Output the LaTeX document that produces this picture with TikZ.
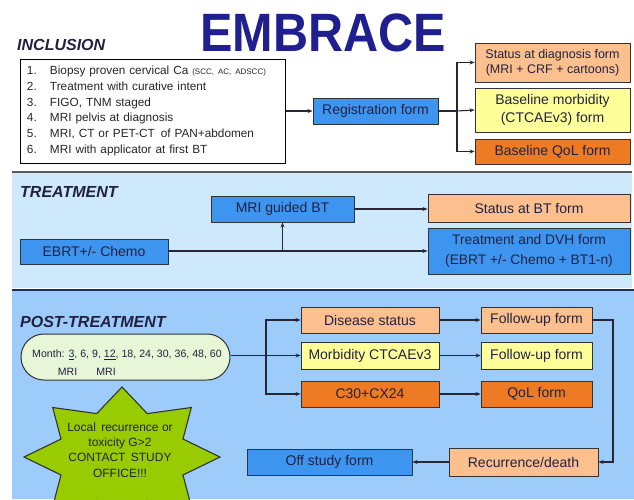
\documentclass[tikz,border=0pt]{standalone}
\usepackage{fontspec}
\usepackage{graphicx}
\setmainfont{Liberation Sans}
\usetikzlibrary{arrows.meta}

\definecolor{fblue}{HTML}{3D95F0}
\definecolor{fpeach}{HTML}{FBC08E}
\definecolor{fyellow}{HTML}{FFFF99}
\definecolor{forange}{HTML}{EE7A24}
\definecolor{treatbg}{HTML}{CDE9FB}
\definecolor{postbg}{HTML}{9DCBFA}
\definecolor{pillfill}{HTML}{E6F6D6}
\definecolor{starfill}{HTML}{99CC00}
\definecolor{boxline}{HTML}{333333}
\definecolor{conline}{HTML}{262636}
\definecolor{txt}{HTML}{222240}
\definecolor{titleblue}{HTML}{1F1F8F}
\definecolor{navyline}{HTML}{1F2F5F}

\tikzset{
  box/.style={draw=boxline, line width=0.9pt, inner sep=1pt, align=center,
    text=txt, font=\fontsize{14}{18}\selectfont},
  bluebox/.style={box, fill=fblue},
  peachbox/.style={box, fill=fpeach},
  yellowbox/.style={box, fill=fyellow},
  orangebox/.style={box, fill=forange},
  conn/.style={draw=conline, line width=1.1pt},
  arr/.style={conn, -{Stealth[length=5pt,width=4pt]}},
  sectitle/.style={anchor=west, inner sep=0pt, text=txt,
    font=\fontsize{16}{18}\selectfont\bfseries\itshape},
}

\begin{document}
\begin{tikzpicture}[x=1pt,y=-1pt]
\useasboundingbox (0,0) rectangle (634,499);
\clip (0,0) rectangle (634,499);

% section bands
\fill[treatbg] (12,172) rectangle (632,288);
\draw[line width=2pt, draw=black!65] (12,172) -- (632,172);
\fill[postbg] (12,290) rectangle (634,499);
\draw[line width=2pt, draw=navyline] (12,290) -- (634,290);

% title
\node[inner sep=0pt, text=titleblue, font=\fontsize{54}{56}\selectfont\bfseries]
  (title) at (323,32.5) {\scalebox{0.9}[1]{EMBRACE}};

% ---------------- inclusion ----------------
\node[sectitle] (inclt) at (17,45) {INCLUSION};
\node[draw=black, line width=1pt, fill=white, minimum width=265, minimum height=104,
      text width=251pt, inner xsep=7pt, align=left, text=black!85,
      font=\fontsize{11.8}{15.8}\selectfont] (incl) at (152.5,111)
  {\makebox[23pt][l]{1.}Biopsy proven cervical Ca {\fontsize{8}{9}\selectfont (SCC, AC, ADSCC)}\\
   \makebox[23pt][l]{2.}Treatment with curative intent\\
   \makebox[23pt][l]{3.}FIGO, TNM staged\\
   \makebox[23pt][l]{4.}MRI pelvis at diagnosis\\
   \makebox[23pt][l]{5.}MRI, CT or PET-CT\, of PAN+abdomen\\
   \makebox[23pt][l]{6.}MRI with applicator at first BT};

\node[bluebox, minimum width=125, minimum height=26] (reg) at (375.5,111) {Registration form};
\node[peachbox, minimum width=155, minimum height=39, font=\fontsize{12.5}{15}\selectfont]
  (sdiag) at (552.5,62.5) {Status at diagnosis form\\(MRI + CRF + cartoons)};
\node[yellowbox, minimum width=155, minimum height=44] (bmorb) at (552.5,110)
  {Baseline morbidity\\(CTCAEv3) form};
\node[orangebox, minimum width=155, minimum height=25] (bqol) at (552.5,151.5) {Baseline QoL form};

\coordinate (j1) at (457,111);
\draw[arr] (incl.east) -- (reg.west);
\draw[conn] (reg.east) -- (j1);
\draw[arr] (j1) |- (sdiag.west);
\draw[arr] (j1) -- (bmorb.west);
\draw[arr] (j1) |- (bqol.west);

% ---------------- treatment ----------------
\node[sectitle] (treatt) at (20,192) {TREATMENT};
\node[bluebox, minimum width=148, minimum height=25] (ebrt) at (94,251.5) {EBRT+/- Chemo};
\node[bluebox, minimum width=143, minimum height=26] (mribt) at (282.5,209) {MRI guided BT};
\node[peachbox, minimum width=202, minimum height=28] (sbt) at (529,208) {Status at BT form};
\node[bluebox, minimum width=202, minimum height=46, font=\fontsize{13.8}{20}\selectfont]
  (dvh) at (529,251) {Treatment and DVH form\\(EBRT +/- Chemo + BT1-n)};

\coordinate (j2) at (mribt.south |- dvh.west);
\draw[conn] (ebrt.east |- dvh.west) -- (j2);
\draw[arr] (j2) -- (mribt.south);
\draw[arr] (j2) -- (dvh.west);
\draw[arr] (mribt.east) -- (sbt.west |- mribt.east);

% ---------------- post-treatment ----------------
\node[sectitle] (postt) at (20,322) {POST-TREATMENT};
\node[draw=boxline, line width=1pt, fill=pillfill, rounded corners=23pt,
      minimum width=209, minimum height=46] (follow) at (125.5,357) {};
\node[inner sep=0pt, text=txt, font=\fontsize{10.6}{12}\selectfont] (months) at (127,355)
  {Month: \underline{3}, 6, 9, \underline{12}, 18, 24, 30, 36, 48, 60};
\node[inner sep=0pt, text=txt, font=\fontsize{10.6}{12}\selectfont] (mria) at (67.5,372) {MRI};
\node[inner sep=0pt, text=txt, font=\fontsize{10.6}{12}\selectfont] (mrib) at (106,372) {MRI};

\node[peachbox, minimum width=138, minimum height=26] (dis) at (370,320) {Disease status};
\node[yellowbox, minimum width=138, minimum height=27] (morb) at (370,355.5) {Morbidity CTCAEv3};
\node[orangebox, minimum width=138, minimum height=26] (c30) at (370,394) {C30+CX24};
\node[peachbox, minimum width=111, minimum height=26] (fu1) at (536.5,320) {Follow-up form};
\node[yellowbox, minimum width=111, minimum height=27] (fu2) at (536.5,355.5) {Follow-up form};
\node[orangebox, minimum width=111, minimum height=26] (qol) at (536.5,394) {QoL form};
\node[peachbox, minimum width=149, minimum height=28] (rec) at (523.5,462) {Recurrence/death};
\node[bluebox, minimum width=165, minimum height=26] (off) at (329.5,462) {Off study form};

\coordinate (j3) at (266,355.5);
\draw[conn] (follow.east |- j3) -- (j3);
\draw[arr] (j3) |- (dis.west);
\draw[arr] (j3) -- (morb.west);
\draw[arr] (j3) |- (c30.west);
\draw[arr] (dis.east) -- (fu1.west);
\draw[arr] (morb.east) -- (fu2.west);
\draw[arr] (c30.east) -- (qol.west);
\coordinate (j4) at (613,320);
\draw[arr] (fu1.east) -- (j4) |- (rec.east);
\draw[arr] (rec.west) -- (off.east);

% alert star
\draw[draw=boxline, line width=1.1pt, fill=starfill, shift={(122,457)}]
  (90:98pt and 70pt) -- (67.5:66pt and 47pt) --
  (45:98pt and 70pt) -- (22.5:66pt and 47pt) --
  (0:98pt and 70pt) -- (-22.5:66pt and 47pt) --
  (-45:98pt and 70pt) -- (-67.5:66pt and 47pt) --
  (-90:98pt and 70pt) -- (-112.5:66pt and 47pt) --
  (-135:98pt and 70pt) -- (-157.5:66pt and 47pt) --
  (180:98pt and 70pt) -- (157.5:66pt and 47pt) --
  (135:98pt and 70pt) -- (112.5:66pt and 47pt) -- cycle;
\node[align=center, inner sep=0pt, text=txt, font=\fontsize{12}{15.3}\selectfont]
  (alert) at (120,450) {Local\, recurrence or\\toxicity G>2\\CONTACT\, STUDY\\OFFICE!!!};

\end{tikzpicture}
\end{document}
